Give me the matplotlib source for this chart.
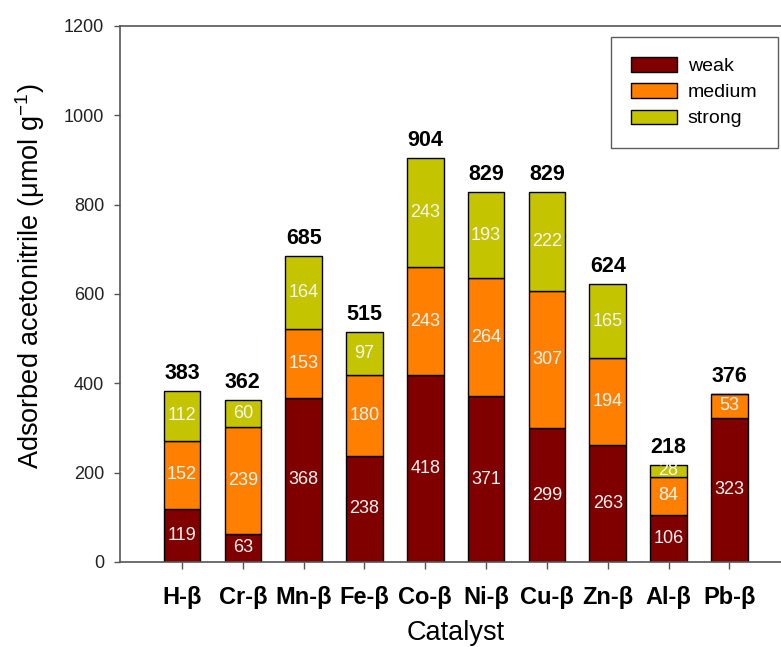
import matplotlib
matplotlib.use("Agg")
import matplotlib.pyplot as plt
import numpy as np

plt.rcParams["font.family"] = ["Liberation Sans", "DejaVu Sans"]
plt.rcParams["mathtext.default"] = "regular"

catalysts = ["H-β", "Cr-β", "Mn-β", "Fe-β", "Co-β", "Ni-β", "Cu-β", "Zn-β", "Al-β", "Pb-β"]
weak = [119, 63, 368, 238, 418, 371, 299, 263, 106, 323]
medium = [152, 239, 153, 180, 243, 264, 307, 194, 84, 53]
strong = [112, 60, 164, 97, 243, 193, 222, 165, 28, 0]
totals = [383, 362, 685, 515, 904, 829, 829, 624, 218, 376]

colors = {"weak": "#800000", "medium": "#ff8000", "strong": "#c4c400"}

fig = plt.figure(figsize=(7.81, 6.47), dpi=100)
ax = fig.add_axes([120 / 781, 85 / 647, 661 / 781, 536 / 647])

x = np.arange(len(catalysts))
width = 0.6
bottom = np.zeros(len(catalysts))
for name, vals in [("weak", weak), ("medium", medium), ("strong", strong)]:
    vals = np.array(vals)
    ax.bar(x, vals, width, bottom=bottom, color=colors[name],
           edgecolor="black", linewidth=1.0, label=name)
    for xi, b, v in zip(x, bottom, vals):
        if v > 0:
            ax.text(xi, b + v / 2, str(v), ha="center", va="center",
                    color="#f4f4f4", fontsize=13)
    bottom = bottom + vals

# totals above each stack
for xi, top, t in zip(x, bottom, totals):
    ax.annotate(str(t), (xi, top), xytext=(0, 5), textcoords="offset points",
                ha="center", va="bottom", fontsize=15.5, fontweight="bold")

ax.set_xlim(-1.02, 9.85)
ax.set_ylim(0, 1200)
ax.set_yticks(np.arange(0, 1201, 200))
ax.set_xticks(x)
ax.set_xticklabels(catalysts, fontsize=17, fontweight="bold")
ax.tick_params(axis="y", direction="out", length=4.5, width=1, pad=7,
               labelsize=13, colors="#555555", labelcolor="#222222")
ax.tick_params(axis="x", direction="out", length=5, width=1, pad=12,
               colors="#555555", labelcolor="black")
ax.spines["right"].set_visible(False)
for s in ["left", "top", "bottom"]:
    ax.spines[s].set_color("#555555")
    ax.spines[s].set_linewidth(1.2)

fig.text(30 / 781, 1 - 276 / 647, "Adsorbed acetonitrile (μmol g$^{-1}$)",
         rotation=90, ha="center", va="center", fontsize=19.5)
fig.text(456 / 781, 1 - 640 / 647, "Catalyst", ha="center", va="baseline",
         fontsize=19.5)

leg = ax.legend(loc="upper left", bbox_to_anchor=(611 / 781, 1 - 37 / 647),
                bbox_transform=fig.transFigure, fontsize=14, frameon=True,
                fancybox=False, borderpad=1.05, handlelength=2.35,
                handleheight=0.75, handletextpad=0.55, labelspacing=0.42,
                borderaxespad=0)
leg.get_frame().set_edgecolor("#333333")
leg.get_frame().set_linewidth(1.0)

fig.savefig("out.png", dpi=100)
